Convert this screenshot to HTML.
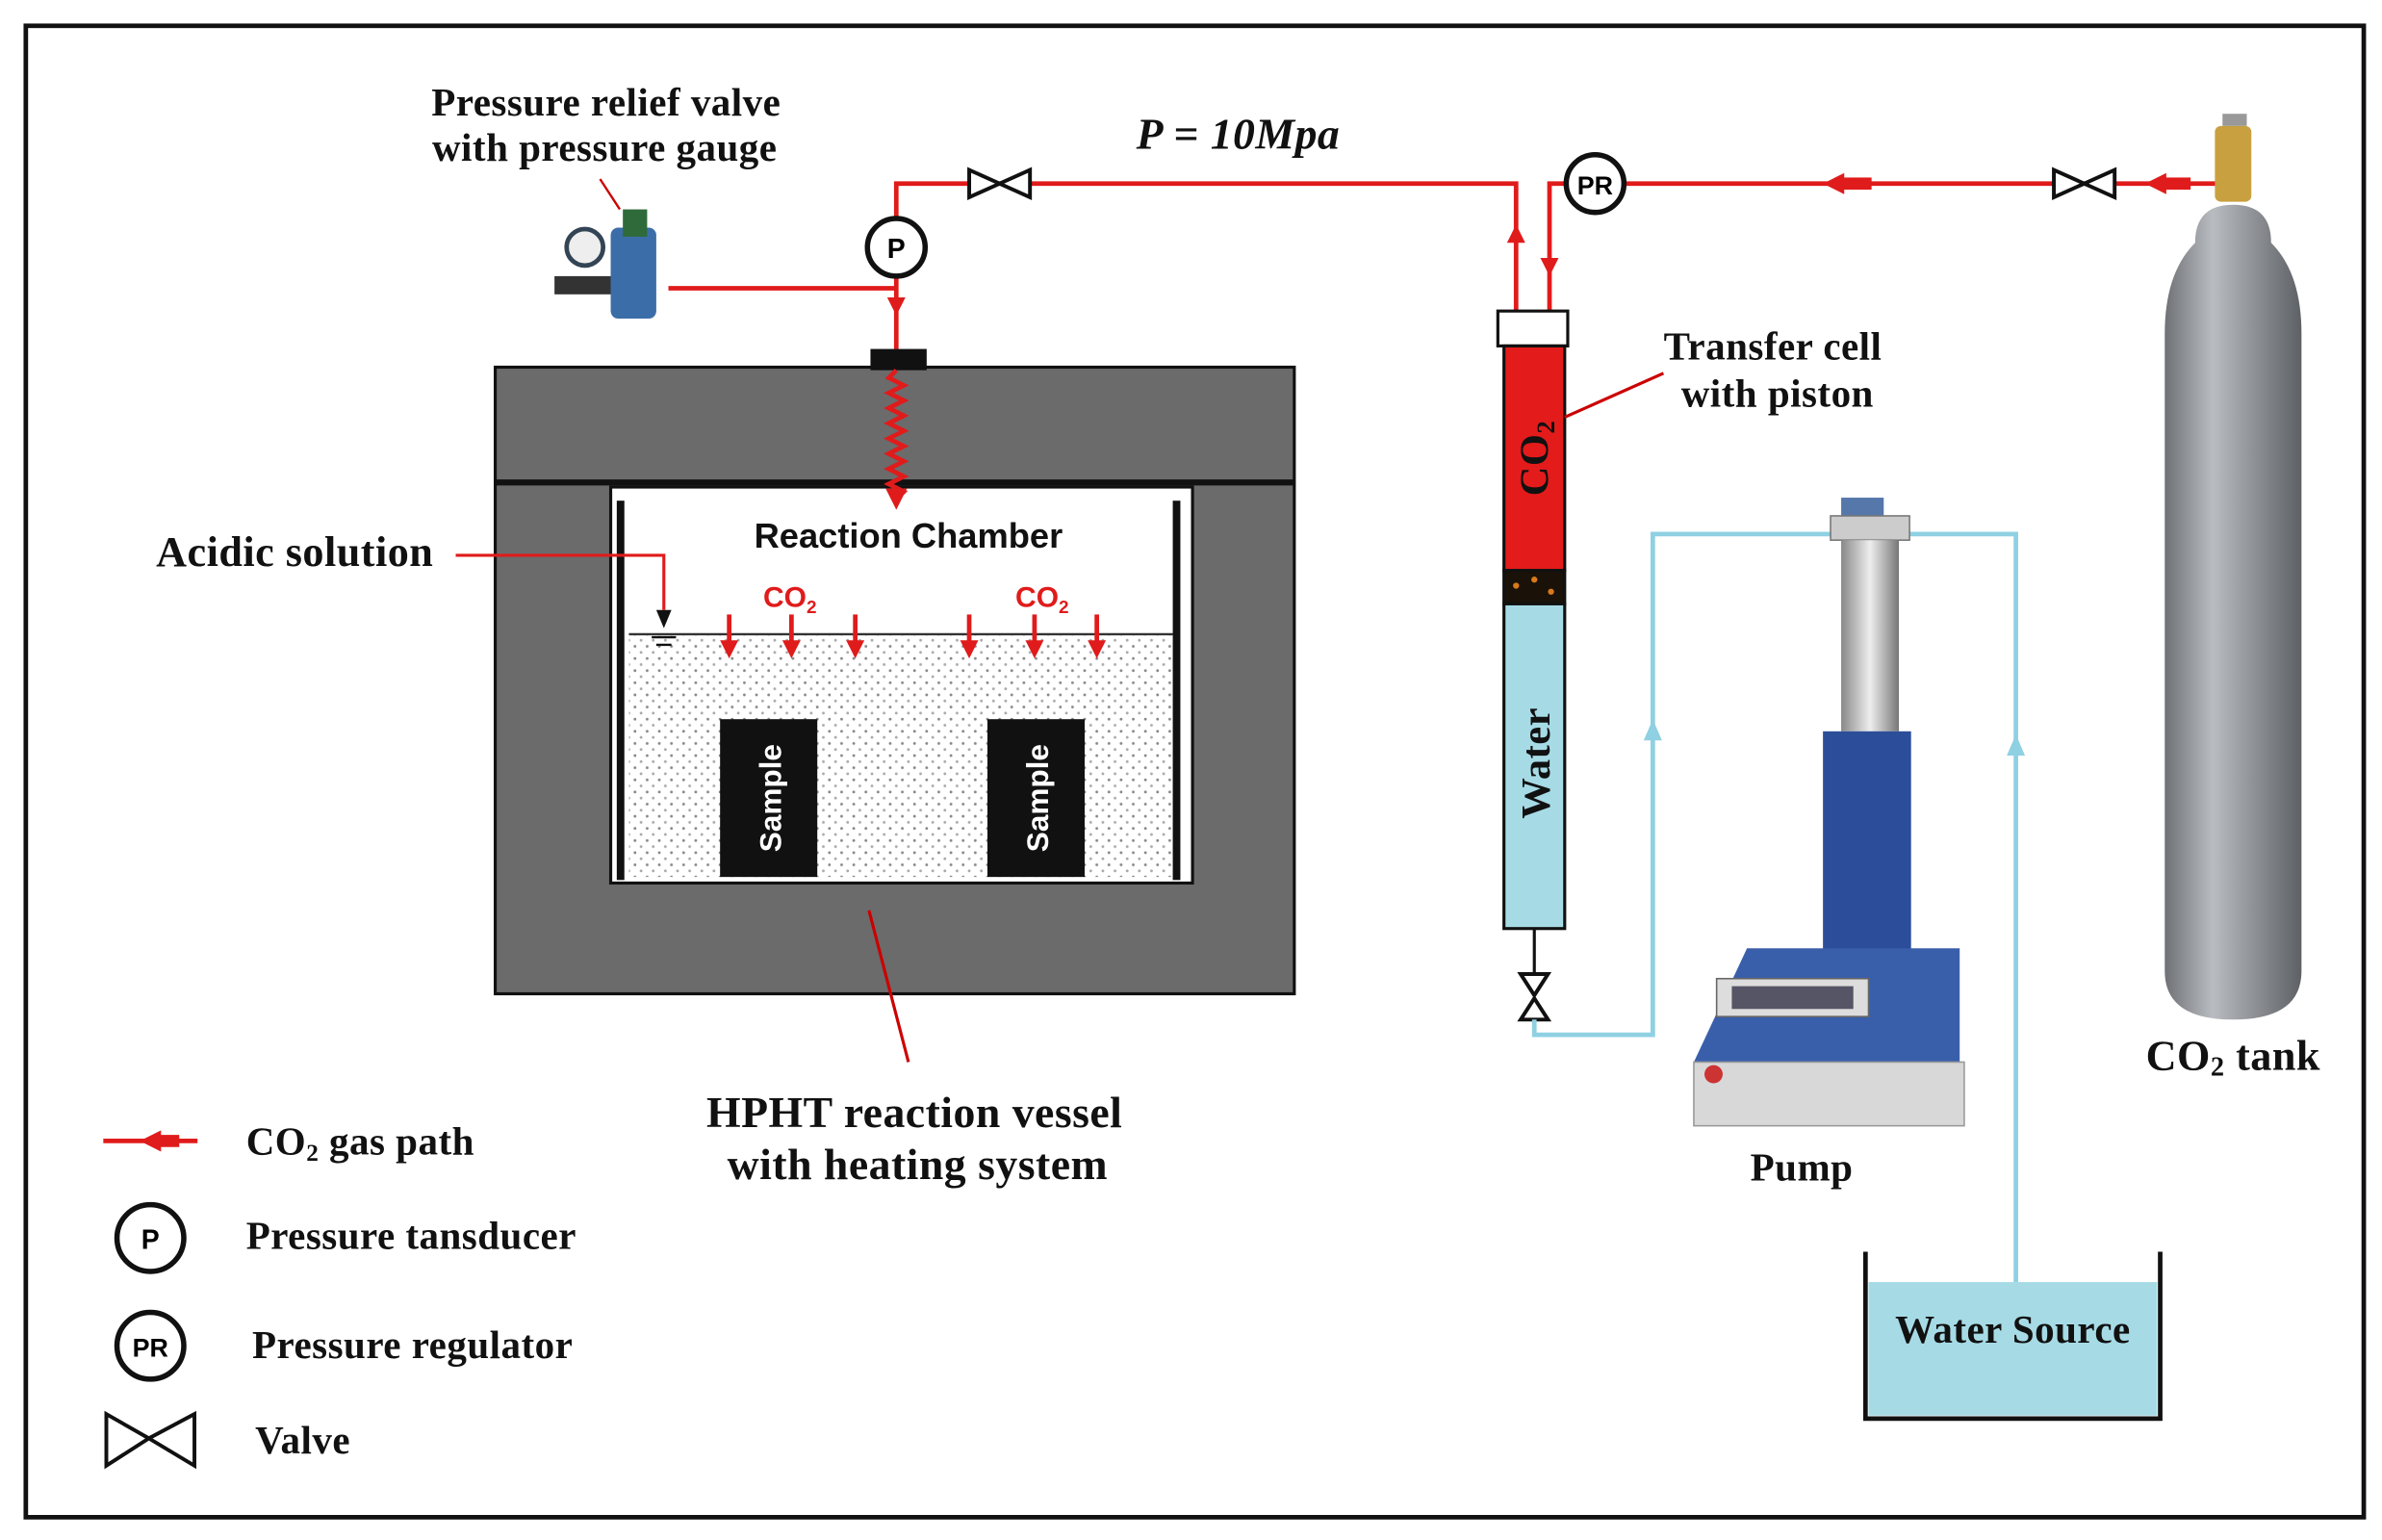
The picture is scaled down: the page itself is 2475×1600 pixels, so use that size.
<!DOCTYPE html>
<html><head><meta charset="utf-8"><style>
html,body{margin:0;padding:0;background:#fff;}
svg{display:block;}
.t{font-family:"Liberation Serif",serif;font-weight:bold;fill:#111;letter-spacing:0.3px;}
.s{font-family:"Liberation Sans",sans-serif;font-weight:bold;}
</style></head><body>
<svg width="2475" height="1600" viewBox="0 0 1568 1015" preserveAspectRatio="none" xmlns="http://www.w3.org/2000/svg">
<defs>
<pattern id="dots" width="8" height="8" patternUnits="userSpaceOnUse"><rect width="8" height="8" fill="#fff"/><circle cx="2" cy="2" r="0.9" fill="#888"/><circle cx="6" cy="6" r="0.9" fill="#aaa"/></pattern>
<linearGradient id="tank" x1="0" x2="1"><stop offset="0" stop-color="#6e7175"/><stop offset="0.35" stop-color="#b9bcc0"/><stop offset="1" stop-color="#5d6064"/></linearGradient>
<linearGradient id="col" x1="0" x2="1"><stop offset="0" stop-color="#888"/><stop offset="0.5" stop-color="#eee"/><stop offset="1" stop-color="#777"/></linearGradient>
</defs>
<rect x="0" y="0" width="1568" height="1015" fill="#fff"/>
<rect x="17" y="17" width="1539" height="983" fill="none" stroke="#111" stroke-width="3"/>

<!-- vessel -->
<rect x="326" y="242" width="526" height="413" fill="#6b6b6b" stroke="#111" stroke-width="2"/>
<line x1="326" y1="318" x2="852" y2="318" stroke="#111" stroke-width="4"/>
<rect x="402" y="321" width="383" height="261" fill="#fff" stroke="#111" stroke-width="2"/>
<rect x="414" y="418" width="358" height="160" fill="url(#dots)"/>
<line x1="414" y1="418" x2="772" y2="418" stroke="#333" stroke-width="1.5"/>
<rect x="406" y="330" width="5" height="250" fill="#111"/>
<rect x="772" y="330" width="5" height="250" fill="#111"/>
<rect x="474" y="474" width="64" height="104" fill="#111"/>
<rect x="650" y="474" width="64" height="104" fill="#111"/>
<text class="s" transform="translate(514,526) rotate(-90)" text-anchor="middle" font-size="20" fill="#fff">Sample</text>
<text class="s" transform="translate(690,526) rotate(-90)" text-anchor="middle" font-size="20" fill="#fff">Sample</text>
<text class="s" x="598" y="361" text-anchor="middle" font-size="23" fill="#111">Reaction Chamber</text>
<text class="s" x="520" y="400" text-anchor="middle" font-size="19" fill="#e01b1b">CO<tspan font-size="12" dy="4">2</tspan></text>
<text class="s" x="686" y="400" text-anchor="middle" font-size="19" fill="#e01b1b">CO<tspan font-size="12" dy="4">2</tspan></text>
<g stroke="#e01b1b" stroke-width="3" fill="#e01b1b">
<line x1="480" y1="405" x2="480" y2="425"/><polygon points="474,422 486,422 480,434" stroke="none"/>
<line x1="521" y1="405" x2="521" y2="425"/><polygon points="515,422 527,422 521,434" stroke="none"/>
<line x1="563" y1="405" x2="563" y2="425"/><polygon points="557,422 569,422 563,434" stroke="none"/>
<line x1="638" y1="405" x2="638" y2="425"/><polygon points="632,422 644,422 638,434" stroke="none"/>
<line x1="681" y1="405" x2="681" y2="425"/><polygon points="675,422 687,422 681,434" stroke="none"/>
<line x1="722" y1="405" x2="722" y2="425"/><polygon points="716,422 728,422 722,434" stroke="none"/>
</g>
<polygon points="432,402 442,402 437,414" fill="#111"/>
<line x1="429" y1="420" x2="445" y2="420" stroke="#111" stroke-width="1.5"/>
<line x1="432" y1="425" x2="442" y2="425" stroke="#111" stroke-width="1.5"/>
<polyline points="300,366 437,366 437,402" fill="none" stroke="#e01b1b" stroke-width="2"/>
<text class="t" x="194" y="373" text-anchor="middle" font-size="28">Acidic solution</text>
<line x1="572" y1="600" x2="598" y2="700" stroke="#c00" stroke-width="2"/>
<text class="t" x="602" y="743" text-anchor="middle" font-size="29">HPHT reaction vessel</text>
<text class="t" x="604" y="777" text-anchor="middle" font-size="29">with heating system</text>

<!-- top fitting -->
<rect x="573" y="230" width="37" height="14" fill="#111"/>
<line x1="590" y1="183" x2="590" y2="230" stroke="#e01b1b" stroke-width="3"/>
<polygon points="584,196 596,196 590,208" fill="#e01b1b"/>
<path d="M590 244 l-5 5 l10 5 l-10 5 l10 5 l-10 5 l10 5 l-10 5 l10 5 l-10 5 l10 5 l-10 5 l10 5 l-10 5 l10 5 l-10 5 l10 5 l-5 5 V 325" fill="none" stroke="#e01b1b" stroke-width="3"/>
<polygon points="583,322 597,322 590,336" fill="#e01b1b"/>

<!-- red piping -->
<g fill="none" stroke="#e01b1b" stroke-width="3">
<polyline points="440,190 590,190"/>
<polyline points="590,143 590,121 998,121 998,205"/>
<polyline points="1020,205 1020,121 1030,121"/>
<polyline points="1070,121 1460,121"/>
</g>
<polygon points="992,160 1004,160 998,148" fill="#e01b1b"/>
<polygon points="1014,170 1026,170 1020,182" fill="#e01b1b"/>
<polygon points="1200,121 1214,114 1214,128" fill="#e01b1b"/>
<rect x="1212" y="117" width="20" height="8" fill="#e01b1b"/>
<polygon points="1412,121 1426,114 1426,128" fill="#e01b1b"/>
<rect x="1424" y="117" width="18" height="8" fill="#e01b1b"/>
<!-- valves -->
<g fill="#fff" stroke="#111" stroke-width="2.5">
<polygon points="638,112 658,121 638,130"/><polygon points="678,112 658,121 678,130"/>
<polygon points="1352,112 1372,121 1352,130"/><polygon points="1392,112 1372,121 1392,130"/>
<polygon points="1001,642 1010,656 1019,642"/><polygon points="1001,672 1010,658 1019,672"/>
<polygon points="70,932 98,948 70,966"/><polygon points="128,932 98,948 128,966"/>
</g>
<circle cx="590" cy="163" r="19" fill="#fff" stroke="#111" stroke-width="3.5"/>
<text class="s" x="590" y="170" text-anchor="middle" font-size="18">P</text>
<circle cx="1050" cy="121" r="19" fill="#fff" stroke="#111" stroke-width="3.5"/>
<text class="s" x="1050" y="128" text-anchor="middle" font-size="17">PR</text>
<text class="t" x="815" y="98" text-anchor="middle" font-size="29" font-style="italic">P = 10Mpa</text>

<!-- relief valve -->
<circle cx="385" cy="163" r="12" fill="#eee" stroke="#345" stroke-width="3"/>
<rect x="365" y="182" width="45" height="12" fill="#333"/>
<rect x="402" y="150" width="30" height="60" rx="5" fill="#3b6ea8"/>
<rect x="410" y="138" width="16" height="18" fill="#2f6b3a"/>
<text class="t" x="399" y="76" text-anchor="middle" font-size="26">Pressure relief valve</text>
<text class="t" x="398" y="106" text-anchor="middle" font-size="26">with pressure gauge</text>
<line x1="395" y1="118" x2="408" y2="138" stroke="#c00" stroke-width="1.5"/>

<!-- transfer cell -->
<rect x="986" y="205" width="46" height="23" fill="#fff" stroke="#111" stroke-width="2"/>
<rect x="990" y="228" width="40" height="148" fill="#e31b1b" stroke="#111" stroke-width="2"/>
<rect x="990" y="376" width="40" height="22" fill="#1a1208" stroke="#111" stroke-width="2"/>
<circle cx="998" cy="386" r="2" fill="#d97a1a"/><circle cx="1010" cy="382" r="2" fill="#d97a1a"/><circle cx="1021" cy="390" r="2" fill="#d97a1a"/>
<rect x="990" y="398" width="40" height="214" fill="#a6dbe6" stroke="#111" stroke-width="2"/>
<text class="t" transform="translate(1019,302) rotate(-90)" text-anchor="middle" font-size="27" fill="#fff">CO<tspan font-size="17" dy="4">2</tspan></text>
<text class="t" transform="translate(1020,503) rotate(-90)" text-anchor="middle" font-size="27">Water</text>
<line x1="1010" y1="612" x2="1010" y2="642" stroke="#111" stroke-width="2"/>
<line x1="1030" y1="275" x2="1095" y2="246" stroke="#c00" stroke-width="2"/>
<text class="t" x="1167" y="237" text-anchor="middle" font-size="26">Transfer cell</text>
<text class="t" x="1170" y="268" text-anchor="middle" font-size="26">with piston</text>

<!-- blue piping -->
<g fill="none" stroke="#8fd0e3" stroke-width="3">
<polyline points="1010,672 1010,682 1088,682 1088,352 1210,352"/>
<polyline points="1255,352 1327,352 1327,845"/>
</g>
<polygon points="1082,488 1094,488 1088,474" fill="#8fd0e3"/>
<polygon points="1321,498 1333,498 1327,484" fill="#8fd0e3"/>

<!-- pump -->
<rect x="1212" y="328" width="28" height="12" fill="#5577aa"/>
<rect x="1205" y="340" width="52" height="16" fill="#ccc" stroke="#777"/>
<rect x="1212" y="356" width="38" height="126" fill="url(#col)"/>
<rect x="1200" y="482" width="58" height="160" fill="#2c4d9a"/>
<polygon points="1150,625 1290,625 1290,700 1115,700" fill="#3a5faa"/>
<rect x="1130" y="645" width="100" height="25" fill="#ddd" stroke="#666"/>
<rect x="1140" y="650" width="80" height="15" fill="#556"/>
<rect x="1115" y="700" width="178" height="42" fill="#d8d8d8" stroke="#999"/>
<circle cx="1128" cy="708" r="6" fill="#c33"/>
<text class="t" x="1186" y="778" text-anchor="middle" font-size="26">Pump</text>

<!-- tank -->
<rect x="1463" y="75" width="16" height="8" fill="#999"/>
<rect x="1458" y="83" width="24" height="50" rx="4" fill="#c9a040"/>
<path d="M1445 160 Q1445 135 1470 135 Q1495 135 1495 160 Q1515 180 1515 220 L1515 640 Q1515 672 1470 672 Q1425 672 1425 640 L1425 220 Q1425 180 1445 160 Z" fill="url(#tank)"/>
<text class="t" x="1470" y="705" text-anchor="middle" font-size="28">CO<tspan font-size="18" dy="4">2</tspan><tspan dy="-4"> tank</tspan></text>

<!-- water source -->
<rect x="1230" y="845" width="190" height="88" fill="#a6dbe6"/>
<polyline points="1228,825 1228,935 1422,935 1422,825" fill="none" stroke="#111" stroke-width="3"/>
<text class="t" x="1325" y="885" text-anchor="middle" font-size="26">Water Source</text>

<!-- legend -->
<line x1="68" y1="752" x2="130" y2="752" stroke="#e01b1b" stroke-width="3"/>
<polygon points="92,752 106,745 106,759" fill="#e01b1b"/><rect x="104" y="748" width="14" height="8" fill="#e01b1b"/>
<text class="t" x="162" y="761" font-size="26">CO<tspan font-size="16" dy="4">2</tspan><tspan dy="-4"> gas path</tspan></text>
<circle cx="99" cy="816" r="22" fill="#fff" stroke="#111" stroke-width="3.5"/>
<text class="s" x="99" y="823" text-anchor="middle" font-size="18">P</text>
<text class="t" x="162" y="823" font-size="26">Pressure tansducer</text>
<circle cx="99" cy="887" r="22" fill="#fff" stroke="#111" stroke-width="3.5"/>
<text class="s" x="99" y="894" text-anchor="middle" font-size="17">PR</text>
<text class="t" x="166" y="895" font-size="26">Pressure regulator</text>
<text class="t" x="168" y="958" font-size="26">Valve</text>
</svg>
</body></html>
